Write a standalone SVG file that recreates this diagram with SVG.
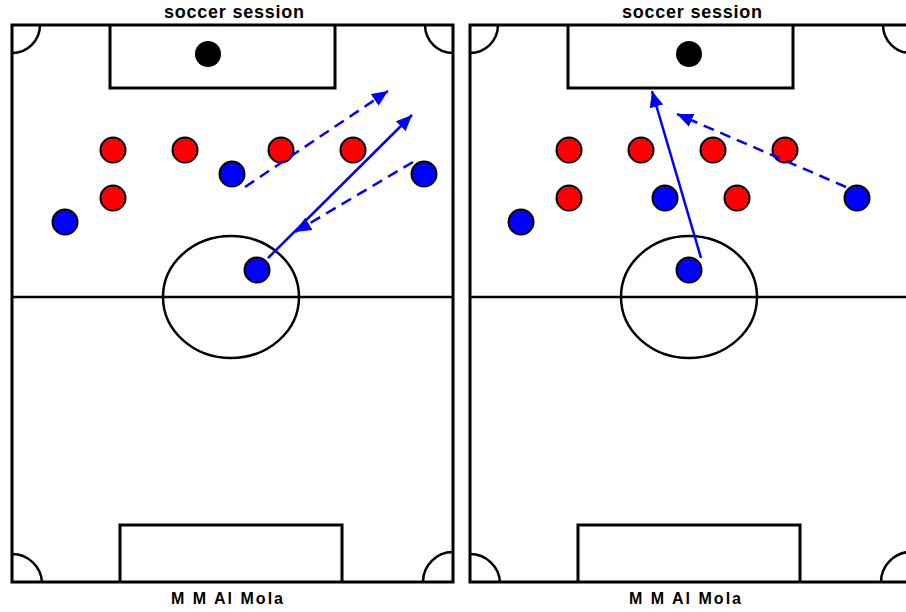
<svg xmlns="http://www.w3.org/2000/svg" xmlns:xlink="http://www.w3.org/1999/xlink" width="906" height="612" viewBox="0 0 906 612">
  <style>
    .line { fill: none; stroke: #000; stroke-width: 3; }
    .thin { fill: none; stroke: #000; stroke-width: 2.5; }
    .red { fill: #ff0000; stroke: #000; stroke-width: 2; }
    .blue { fill: #0000ff; stroke: #000; stroke-width: 2; }
    .ball { fill: #000; }
    .pass { fill: none; stroke: #0000ff; stroke-width: 2.5; marker-end: url(#head); }
    .dash { stroke-dasharray: 11 7; }
    .title { font-family: "Liberation Sans", Arial, sans-serif; font-weight: bold; font-size: 18px; fill: #000; }
    .credit { font-family: "Liberation Sans", Arial, sans-serif; font-weight: bold; font-size: 16px; fill: #000; }
  </style>
  <defs>
    <marker id="head" markerUnits="userSpaceOnUse" markerWidth="17" markerHeight="15" refX="16" refY="7" orient="auto">
      <path d="M0,0 L16,7 L0,14 z" fill="#0000ff"/>
    </marker>
    <g id="pitch">
      <rect x="12" y="25" width="441" height="557" class="line"/>
      <path d="M110,25 V88 H335 V25" class="line"/>
      <path d="M120,582 V525 H342 V582" class="line"/>
      <line x1="12" y1="297" x2="453" y2="297" class="thin"/>
      <ellipse cx="231" cy="297" rx="68" ry="61" class="thin"/>
      <path d="M12,53 A28,28 0 0 0 40,25" class="thin"/>
      <path d="M425,25 A28,28 0 0 0 453,53" class="thin"/>
      <path d="M12,554 A30,30 0 0 1 42,582" class="thin"/>
      <path d="M423,582 A30,30 0 0 1 453,552" class="thin"/>
    </g>
  </defs>
  <rect width="906" height="612" fill="#fff"/>

  <g id="pitch-left">
    <use xlink:href="#pitch" href="#pitch"/>
    <circle cx="208" cy="54" r="13" class="ball"/>
    <text class="title" x="234" y="18" text-anchor="middle" textLength="140" lengthAdjust="spacing">soccer session</text>
    <text class="credit" x="227" y="604" text-anchor="middle" textLength="112" lengthAdjust="spacing">M M Al Mola</text>
  </g>
  <g id="pitch-right">
    <use xlink:href="#pitch" href="#pitch" transform="translate(458,0)"/>
    <circle cx="689" cy="54" r="13" class="ball"/>
    <text class="title" x="692" y="18" text-anchor="middle" textLength="140" lengthAdjust="spacing">soccer session</text>
    <text class="credit" x="685" y="604" text-anchor="middle" textLength="112" lengthAdjust="spacing">M M Al Mola</text>
  </g>

  <g id="players-left">
    <g id="L-red-1"><circle cx="113" cy="150" r="12.5" class="red"/></g>
    <g id="L-red-2"><circle cx="185" cy="150" r="12.5" class="red"/></g>
    <g id="L-red-3"><circle cx="281" cy="150" r="12.5" class="red"/></g>
    <g id="L-red-4"><circle cx="353" cy="150" r="12.5" class="red"/></g>
    <g id="L-red-5"><circle cx="113" cy="198" r="12.5" class="red"/></g>
    <g id="L-blue-1"><circle cx="232" cy="174" r="12.5" class="blue"/></g>
    <g id="L-blue-2"><circle cx="424" cy="174" r="12.5" class="blue"/></g>
    <g id="L-blue-3"><circle cx="65" cy="222" r="12.5" class="blue"/></g>
    <g id="L-blue-4"><circle cx="257" cy="270" r="12.5" class="blue"/></g>
  </g>
  <g id="players-right">
    <g id="R-red-1"><circle cx="569" cy="150" r="12.5" class="red"/></g>
    <g id="R-red-2"><circle cx="641" cy="150" r="12.5" class="red"/></g>
    <g id="R-red-3"><circle cx="713" cy="150" r="12.5" class="red"/></g>
    <g id="R-red-4"><circle cx="785" cy="150" r="12.5" class="red"/></g>
    <g id="R-red-5"><circle cx="569" cy="198" r="12.5" class="red"/></g>
    <g id="R-red-6"><circle cx="737" cy="198" r="12.5" class="red"/></g>
    <g id="R-blue-1"><circle cx="665" cy="198" r="12.5" class="blue"/></g>
    <g id="R-blue-2"><circle cx="857" cy="198" r="12.5" class="blue"/></g>
    <g id="R-blue-3"><circle cx="521" cy="222" r="12.5" class="blue"/></g>
    <g id="R-blue-4"><circle cx="689" cy="270" r="12.5" class="blue"/></g>
  </g>

  <g id="connectors">
    <line class="pass dash" x1="245" y1="187" x2="388" y2="91"/>
    <line class="pass" x1="268" y1="258" x2="412" y2="115"/>
    <line class="pass dash" x1="413" y1="162" x2="295" y2="232"/>
    <line class="pass" x1="701" y1="258" x2="652" y2="91"/>
    <line class="pass dash" x1="846" y1="187" x2="677" y2="114"/>
  </g>
</svg>
